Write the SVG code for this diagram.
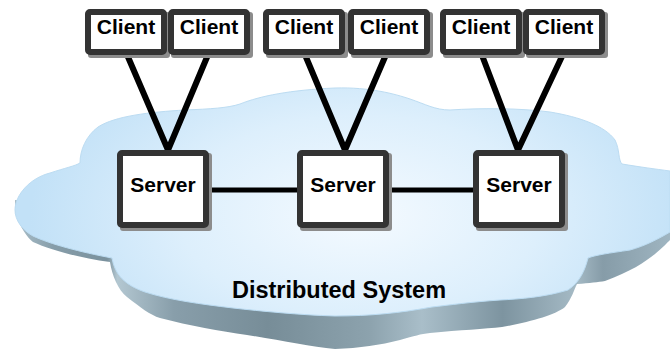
<svg xmlns="http://www.w3.org/2000/svg" width="670" height="351" viewBox="0 0 670 351">
<defs>
<radialGradient id="cloudFill" cx="360" cy="215" r="330" gradientUnits="userSpaceOnUse" gradientTransform="translate(360 215) scale(1 0.55) translate(-360 -215)">
<stop offset="0" stop-color="#f4faff"/>
<stop offset="0.55" stop-color="#ddeffc"/>
<stop offset="1" stop-color="#c2e1f7"/>
</radialGradient>
<linearGradient id="shadowFill" x1="0" y1="0" x2="670" y2="0" gradientUnits="userSpaceOnUse">
<stop offset="0" stop-color="#b8ccd6"/>
<stop offset="0.08" stop-color="#869da9"/>
<stop offset="0.16" stop-color="#7a919d"/>
<stop offset="0.175" stop-color="#b3c7d1"/>
<stop offset="0.26" stop-color="#889eaa"/>
<stop offset="0.4" stop-color="#778d98"/>
<stop offset="0.55" stop-color="#8ca2ad"/>
<stop offset="0.63" stop-color="#a9bec9"/>
<stop offset="0.75" stop-color="#7d94a0"/>
<stop offset="0.86" stop-color="#a5bac5"/>
<stop offset="0.9" stop-color="#869ca8"/>
<stop offset="1" stop-color="#9fb5c1"/>
</linearGradient>
</defs>
<style>
.box{fill:#ffffff;stroke:#333333;stroke-width:6}
.shd{fill:#8c8c8c}
.lbl{font-family:"Liberation Sans",Arial,sans-serif;font-weight:bold;font-size:21px;fill:#000000;text-anchor:middle}
.big{font-size:23.5px}
.wire{fill:none;stroke:#000000;stroke-width:6;stroke-linecap:round}
.link{fill:none;stroke:#000000;stroke-width:5;stroke-linecap:round}
</style>
<g id="cloud">
<path fill="url(#shadowFill)" d="M 15,205 L 15,212 C 20,228 28,238 33,242 C 50,250 80,258 110,262 C 112,275 118,290 127,297 C 140,307 150,315 160,318 C 190,326 220,331 247,335 C 280,340 310,347 335,349 C 360,348 380,345 400,340 C 415,336 420,334 430,333 C 460,330 485,329 502,327 C 530,322 555,315 565,307 C 572,298 574,290 577,284 C 590,283 598,282 605,281 C 630,272 645,262 655,254 C 662,248 667,243 670,240 L 670,200 L 15,200 Z"/>
<path fill="url(#cloudFill)" stroke="#bcdcf2" stroke-width="1" d="M 15,210 C 15,195 30,178 50,173 C 65,168 75,166 80,163 C 80,150 86,136 98,127 C 115,116 150,112 185,110 C 210,109 228,108 240,104 C 260,96 290,90 335,88 C 370,87 395,94 410,99 C 425,104 435,110 450,110 C 480,108 520,108 550,112 C 580,117 605,126 615,140 C 620,150 618,160 622,164 C 640,167 655,169 670,171 L 670,232 C 660,238 645,246 630,250 C 610,253 595,255 588,258 C 585,270 580,282 568,290 C 545,297 520,299 500,300 C 470,302 450,305 432,307 C 400,313 370,316 335,316 C 300,315 260,311 233,308 C 200,304 170,300 145,292 C 125,285 115,275 112,258 C 80,252 50,244 33,236 C 22,230 15,220 15,210 Z"/>
<text class="lbl big" x="339" y="298">Distributed System</text>
</g>
<g id="connectors">
<polyline class="wire" points="125,50 168,150 210,50"/>
<polyline class="wire" points="303,50 345,150 388,50"/>
<polyline class="wire" points="480,50 518,150 565,50"/>
<line class="link" x1="209" y1="190" x2="297" y2="190"/>
<line class="link" x1="389" y1="190" x2="474" y2="190"/>
</g>
<g id="client1"><rect class="shd" x="88" y="12" width="82" height="46" rx="3"/><rect class="box" x="88" y="12" width="76" height="40" rx="2"/><text class="lbl" x="126" y="34">Client</text></g>
<g id="client2"><rect class="shd" x="171" y="12" width="82" height="46" rx="3"/><rect class="box" x="171" y="12" width="76" height="40" rx="2"/><text class="lbl" x="209" y="34">Client</text></g>
<g id="client3"><rect class="shd" x="266" y="12" width="82" height="46" rx="3"/><rect class="box" x="266" y="12" width="76" height="40" rx="2"/><text class="lbl" x="304" y="34">Client</text></g>
<g id="client4"><rect class="shd" x="351" y="12" width="82" height="46" rx="3"/><rect class="box" x="351" y="12" width="76" height="40" rx="2"/><text class="lbl" x="389" y="34">Client</text></g>
<g id="client5"><rect class="shd" x="443" y="12" width="82" height="46" rx="3"/><rect class="box" x="443" y="12" width="76" height="40" rx="2"/><text class="lbl" x="481" y="34">Client</text></g>
<g id="client6"><rect class="shd" x="526" y="12" width="82" height="46" rx="3"/><rect class="box" x="526" y="12" width="76" height="40" rx="2"/><text class="lbl" x="564" y="34">Client</text></g>
<g id="server1"><rect class="shd" x="120" y="153" width="92" height="78" rx="3"/><rect class="box" x="120" y="153" width="86" height="72" rx="2"/><text class="lbl" x="163" y="192">Server</text></g>
<g id="server2"><rect class="shd" x="300" y="153" width="92" height="78" rx="3"/><rect class="box" x="300" y="153" width="86" height="72" rx="2"/><text class="lbl" x="343" y="192">Server</text></g>
<g id="server3"><rect class="shd" x="476" y="153" width="92" height="78" rx="3"/><rect class="box" x="476" y="153" width="86" height="72" rx="2"/><text class="lbl" x="519" y="192">Server</text></g>
</svg>
